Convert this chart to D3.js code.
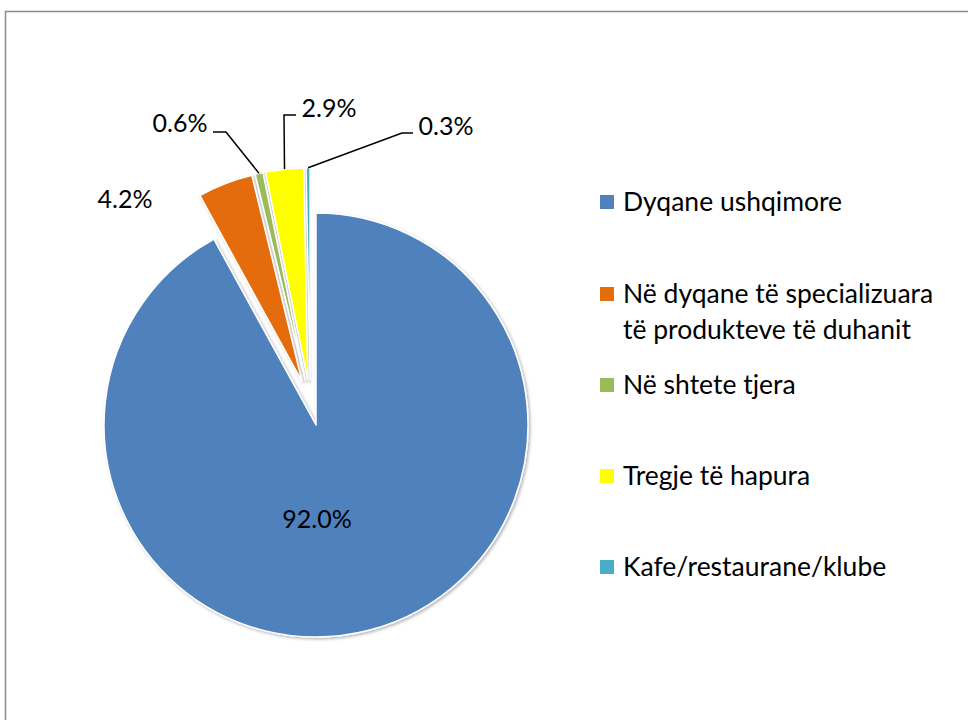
<!DOCTYPE html>
<html>
<head>
<meta charset="utf-8">
<script src="https://cdn.jsdelivr.net/npm/d3@7"></script>
<style>
  body { margin: 0; background: #fff; }
  svg text { font-family: Lato, "Open Sans", sans-serif; fill: #000; }
</style>
</head>
<body>
<svg id="chart" width="968" height="720"></svg>
<script>
// chart data
var categories = ["Dyqane ushqimore", "Në dyqane të specializuara të produkteve të duhanit", "Në shtete tjera", "Tregje të hapura", "Kafe/restaurane/klube"];
var legendLines = [["Dyqane ushqimore"], ["Në dyqane të specializuara", "të produkteve të duhanit"], ["Në shtete tjera"], ["Tregje të hapura"], ["Kafe/restaurane/klube"]];
var values = [92.0, 4.2, 0.6, 2.9, 0.3];
var colors = ["#4F81BD", "#E46C0A", "#9BBB59", "#FFFF00", "#4BACC6"];

var cfg = {
	cx: 310.3,
	cy: 402.7,
	r: 212,
	explode: 23,
	fontSize: 25,
	legendFont: 26.5
};

// where each label text sits, and the elbow of its leader line (null = no leader)
var labelPlace = [
	{ x: 317, y: 528, anchor: "middle", elbow: null },
	{ x: 125, y: 208, anchor: "middle", elbow: null },
	{ x: 180, y: 132, anchor: "middle", elbow: [[226, 132], [213, 132]] },
	{ x: 329, y: 117, anchor: "middle", elbow: [[284, 115], [296, 115]] },
	{ x: 446, y: 135, anchor: "middle", elbow: [[402, 133], [413, 133]] }
];

var svg = d3.select("#chart");

// drop shadow like the office chart
var defs = svg.append("defs");
var f = defs.append("filter").attr("id", "shadow")
	.attr("x", "-20%").attr("y", "-20%").attr("width", "140%").attr("height", "140%");
f.append("feDropShadow")
	.attr("dx", 1.5).attr("dy", 1.5).attr("stdDeviation", 1.5)
	.attr("flood-color", "#000").attr("flood-opacity", 0.3);

// outer frame (runs off the page on right and bottom)
svg.append("rect")
	.attr("x", 5.5).attr("y", 11.5)
	.attr("width", 1000).attr("height", 800)
	.attr("fill", "none")
	.attr("stroke", "#8c8c8c")
	.attr("stroke-width", 1.5);

var pie = d3.pie().sort(null).value(function(d) { return d; });
var arcs = pie(values);

var arc = d3.arc().innerRadius(0).outerRadius(cfg.r);

function offset(d) {
	var a = (d.startAngle + d.endAngle) / 2;
	return [cfg.cx + cfg.explode * Math.sin(a), cfg.cy - cfg.explode * Math.cos(a)];
}

var g = svg.append("g");

g.selectAll("path")
	.data(arcs)
	.enter().append("path")
	.attr("transform", function(d) {
		var o = offset(d);
		return "translate(" + o[0] + "," + o[1] + ")";
	})
	.attr("d", arc)
	.attr("fill", function(d, i) { return colors[i]; })
	.attr("stroke", "#fff")
	.attr("stroke-width", 1.5)
	.attr("stroke-linejoin", "round")
	.attr("filter", "url(#shadow)");

// leader lines
arcs.forEach(function(d, i) {
	var p = labelPlace[i];
	if (!p.elbow) return;
	var o = offset(d);
	var a = (d.startAngle + d.endAngle) / 2;
	var start = [o[0] + cfg.r * Math.sin(a), o[1] - cfg.r * Math.cos(a)];
	var pts = [start].concat(p.elbow);
	svg.append("path")
		.attr("d", d3.line()(pts))
		.attr("fill", "none")
		.attr("stroke", "#000")
		.attr("stroke-width", 1.5);
});

// data labels
svg.selectAll("text.lbl")
	.data(arcs)
	.enter().append("text")
	.attr("class", "lbl")
	.attr("x", function(d, i) { return labelPlace[i].x; })
	.attr("y", function(d, i) { return labelPlace[i].y; })
	.attr("text-anchor", function(d, i) { return labelPlace[i].anchor; })
	.style("font-size", cfg.fontSize + "px")
	.text(function(d) { return d.data.toFixed(1) + "%"; });

// legend
var legendY = [202, 294, 385, 476, 567];
var leg = svg.selectAll("g.leg")
	.data(categories)
	.enter().append("g")
	.attr("class", "leg")
	.attr("transform", function(d, i) { return "translate(600," + legendY[i] + ")"; });

leg.append("rect")
	.attr("x", 0).attr("y", -7)
	.attr("width", 14).attr("height", 14)
	.attr("fill", function(d, i) { return colors[i]; });

leg.each(function(d, i) {
	var t = d3.select(this).append("text")
		.attr("x", 23)
		.attr("y", 9)
		.style("font-size", cfg.legendFont + "px");
	legendLines[i].forEach(function(line, j) {
		t.append("tspan")
			.attr("x", 23)
			.attr("dy", j === 0 ? 0 : 36)
			.text(line);
	});
});
</script>
</body>
</html>
